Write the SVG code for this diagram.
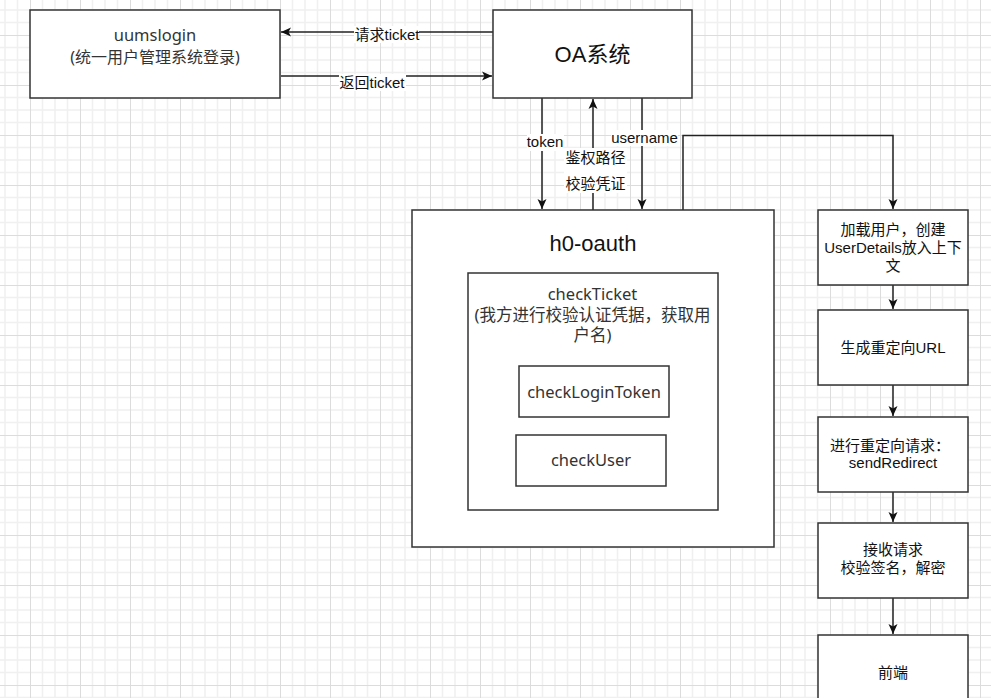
<svg xmlns="http://www.w3.org/2000/svg" width="991" height="698" viewBox="0 0 991 698">
<defs>
  <pattern id="grid" patternUnits="userSpaceOnUse" x="30" y="35" width="50" height="50">
    <path d="M12.5,0V50M25,0V50M37.5,0V50M0,12.5H50M0,25H50M0,37.5H50" stroke="#f0f0f0" stroke-width="1.5" fill="none"/>
    <path d="M0.5,0V50M0,0.5H50" stroke="#dcdcdc" stroke-width="1" fill="none"/>
  </pattern>
  <marker id="arr" markerUnits="userSpaceOnUse" markerWidth="11" markerHeight="10" refX="10" refY="4.5" orient="auto" overflow="visible">
    <path d="M0,0 L10,4.5 L0,9 L2.5,4.5 Z" fill="#111"/>
  </marker>
  <style>
    .box{fill:#fff;stroke:#333;stroke-width:1.5}
    .line{fill:none;stroke:#222;stroke-width:1.5}
    .t{font-family:"Liberation Sans","Noto Sans CJK SC",sans-serif;font-size:15px;fill:#111;text-anchor:middle}
    .big{font-size:22px}
    .n{font-family:"Noto Sans","Noto Sans CJK SC",sans-serif;fill:#333;text-anchor:middle;font-size:16.5px}
    .lbg{fill:#fff}
  </style>
</defs>
<rect width="991" height="698" fill="#fff"/>
<rect width="991" height="698" fill="url(#grid)"/>

<g id="connectors">
  <path class="line" d="M493,32H281" marker-end="url(#arr)"/>
  <path class="line" d="M281,76H492" marker-end="url(#arr)"/>
  <path class="line" d="M542,98V209" marker-end="url(#arr)"/>
  <path class="line" d="M593,210V99" marker-end="url(#arr)"/>
  <path class="line" d="M642,98V209" marker-end="url(#arr)"/>
  <path class="line" d="M683,210V135.5H893V209" marker-end="url(#arr)"/>
  <path class="line" d="M893,285V309" marker-end="url(#arr)"/>
  <path class="line" d="M893,385V416" marker-end="url(#arr)"/>
  <path class="line" d="M893,492V522" marker-end="url(#arr)"/>
  <path class="line" d="M893,598V634" marker-end="url(#arr)"/>
  <rect class="lbg" x="354" y="26" width="65" height="17"/>
  <text class="t" x="387" y="40">请求ticket</text>
  <rect class="lbg" x="339" y="74" width="67" height="17"/>
  <text class="t" x="372" y="88">返回ticket</text>
  <rect class="lbg" x="527" y="134" width="37" height="17"/>
  <text class="t" x="545" y="147">token</text>
  <rect class="lbg" x="611" y="130" width="67" height="16"/>
  <text class="t" x="644.5" y="143">username</text>
  <rect class="lbg" x="564" y="148" width="63" height="45"/>
  <text class="t" x="595.5" y="163">鉴权路径</text>
  <text class="t" x="595.5" y="189">校验凭证</text>
</g>

<g id="uumslogin">
  <rect class="box" x="30" y="10" width="250" height="88"/>
  <text class="n" x="155" y="41">uumslogin</text>
  <text class="n" x="155" y="63" style="font-size:16px">(统一用户管理系统登录)</text>
</g>

<g id="oa">
  <rect class="box" x="493" y="10" width="199" height="88"/>
  <text class="t big" x="592.5" y="62">OA系统</text>
</g>

<g id="h0-oauth">
  <rect class="box" x="412" y="210" width="362" height="337"/>
  <text class="t big" x="593" y="251">h0-oauth</text>
</g>

<g id="checkTicket">
  <rect class="box" x="468" y="273" width="250" height="237"/>
  <text class="n" x="592.5" y="300">checkTicket</text>
  <text class="n" x="592.5" y="321">(我方进行校验认证凭据，获取用</text>
  <text class="n" x="592.5" y="341">户名)</text>
</g>

<g id="checkLoginToken">
  <rect class="box" x="519" y="366" width="150" height="51"/>
  <text class="n" x="594" y="398">checkLoginToken</text>
</g>

<g id="checkUser">
  <rect class="box" x="516" y="435" width="150" height="51"/>
  <text class="n" x="591" y="466">checkUser</text>
</g>

<g id="loadUser">
  <rect class="box" x="818" y="210" width="150" height="75"/>
  <text class="t" x="893" y="235">加载用户，创建</text>
  <text class="t" x="893" y="253">UserDetails放入上下</text>
  <text class="t" x="893" y="271">文</text>
</g>

<g id="genUrl">
  <rect class="box" x="818" y="310" width="150" height="75"/>
  <text class="t" x="893" y="353">生成重定向URL</text>
</g>

<g id="redirect">
  <rect class="box" x="818" y="417" width="150" height="75"/>
  <text class="t" x="890" y="451">进行重定向请求：</text>
  <text class="t" x="893" y="468">sendRedirect</text>
</g>

<g id="receive">
  <rect class="box" x="818" y="523" width="150" height="75"/>
  <text class="t" x="893" y="555">接收请求</text>
  <text class="t" x="893" y="573">校验签名，解密</text>
</g>

<g id="frontend">
  <rect class="box" x="818" y="635" width="150" height="75"/>
  <text class="t" x="893" y="678">前端</text>
</g>
</svg>
